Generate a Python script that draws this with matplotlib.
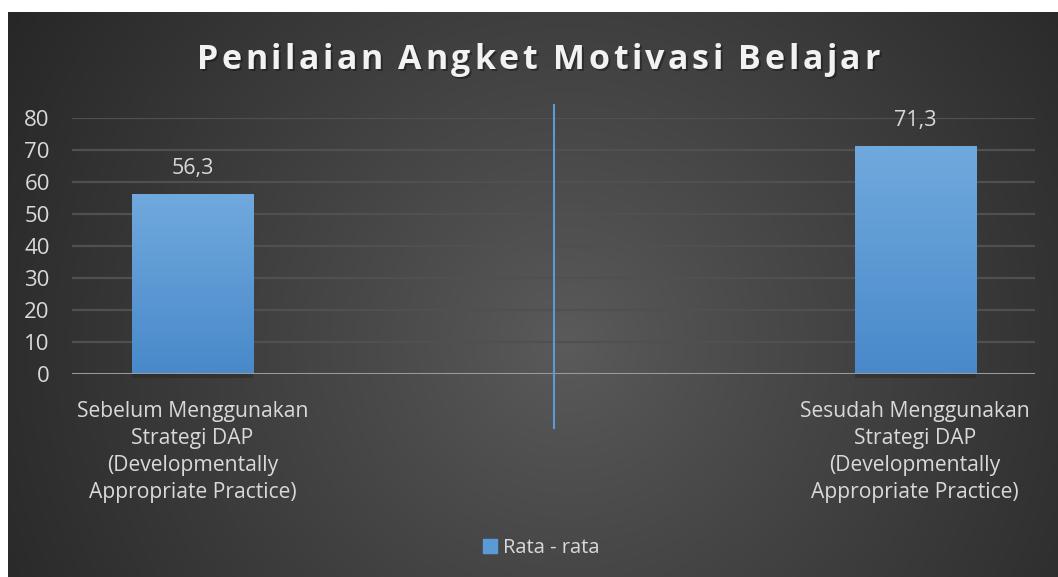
import numpy as np
import matplotlib
matplotlib.use("Agg")
import matplotlib.pyplot as plt
from matplotlib.colors import LinearSegmentedColormap

# ---- data ----
categories = ["Sebelum Menggunakan\nStrategi DAP\n(Developmentally\nAppropriate Practice)",
              "Sesudah Menggunakan\nStrategi DAP\n(Developmentally\nAppropriate Practice)"]
values = [56.3, 71.3]
value_labels = ["56,3", "71,3"]
series_name = "Rata - rata"
title = "Penilaian Angket Motivasi Belajar"
yticks = [0, 10, 20, 30, 40, 50, 60, 70, 80]

W, H = 1058, 577
fig = plt.figure(figsize=(W / 100, H / 100), dpi=100)
fig.patch.set_facecolor("white")
FONT = "Open Sans"

# ---- background radial gradient ----
bx0, by0 = 8, 12
bw, bh = W - bx0, H - by0
bg = fig.add_axes([bx0 / W, 0, bw / W, bh / H], zorder=-10)
yy, xx = np.mgrid[0:bh, 0:bw]
cx, cy = 560, 330
d = np.sqrt((xx - cx) ** 2 + (yy - cy) ** 2)
t = np.clip(d / np.sqrt(cx ** 2 + cy ** 2), 0, 1) ** 0.9
c0 = np.array([0x5b, 0x5b, 0x5b]) / 255
c1 = np.array([0x27, 0x27, 0x27]) / 255
img = c0[None, None, :] * (1 - t[..., None]) + c1[None, None, :] * t[..., None]
bg.imshow(img, aspect="auto", extent=[0, 1, 0, 1], origin="upper")
bg.set_axis_off()

# ---- main axes ----
ax_l, ax_r, ax_t, ax_b = 72, 1035, 118, 374
ax = fig.add_axes([ax_l / W, (H - ax_b) / H, (ax_r - ax_l) / W, (ax_b - ax_t) / H])
ax.set_facecolor("none")
x = np.arange(len(values))
bar_w = 0.1675
ax.set_xlim(-0.1668, 1.166)
ax.set_ylim(0, 80)

for yv in yticks[1:]:
    ax.axhline(yv, color="#505050", lw=1.6, zorder=1)
ax.axhline(0, color="#9a9a9a", lw=2.2, zorder=4)

bars = ax.bar(x, values, width=bar_w, color="#5b9bd5", zorder=3)
cmap = LinearSegmentedColormap.from_list("bar", ["#4989ca", "#70a9dd"])
grad = np.linspace(0, 1, 256).reshape(-1, 1)
for b in bars:
    x0, w, h = b.get_x(), b.get_width(), b.get_height()
    im = ax.imshow(grad, cmap=cmap, aspect="auto", origin="lower",
                   extent=[x0, x0 + w, 0, h], zorder=3.1)
    im.set_clip_path(b)
    ax.fill_between([x0, x0 + w], [-1.2, -1.2], [0, 0], color="#222222",
                    alpha=0.4, zorder=2, clip_on=False, lw=0)

for xi, v, lab in zip(x, values, value_labels):
    ax.annotate(lab, (xi, v), xytext=(0, 11), textcoords="offset points",
                ha="center", va="bottom", color="#d9d9d9", fontsize=15.5,
                family=FONT)

# separator line
ax.plot([0.5, 0.5], [84.1, -16.9], color="#5b9bd5", lw=1.5, clip_on=False, zorder=5)

ax.set_yticks(yticks)
ax.set_yticklabels([str(v) for v in yticks])
ax.set_xticks(x)
ax.set_xticklabels(categories, linespacing=1.38)
ax.tick_params(axis="y", length=0, pad=16, labelsize=16, labelcolor="#d9d9d9")
ax.tick_params(axis="x", length=0, pad=19.5, labelsize=15.2, labelcolor="#d9d9d9")
for lab in ax.get_xticklabels() + ax.get_yticklabels():
    lab.set_family(FONT)
for s in ax.spines.values():
    s.set_visible(False)

# ---- title with letter spacing ----
fig.canvas.draw()
renderer = fig.canvas.get_renderer()
tsize = 24.5
target_w = 683
chars = list(title)
widths = []
for ch in chars:
    if ch == " ":
        tt = fig.text(0, 0, "a a", fontsize=tsize, weight="bold", family=FONT)
        ta = fig.text(0, 0, "aa", fontsize=tsize, weight="bold", family=FONT)
        wv = tt.get_window_extent(renderer).width - ta.get_window_extent(renderer).width
        tt.remove(); ta.remove()
    else:
        tt = fig.text(0, 0, ch, fontsize=tsize, weight="bold", family=FONT)
        wv = tt.get_window_extent(renderer).width
        tt.remove()
    widths.append(wv)
base = sum(widths)
track = (target_w - base) / (len(chars) - 1)
xpos = 538 - target_w / 2
ty = 60
for ch, wv in zip(chars, widths):
    if ch != " ":
        fig.text((xpos + 2) / W, 1 - (ty + 2) / H, ch, fontsize=tsize, weight="bold",
                 family=FONT, color="#111111", alpha=0.45, va="center", ha="left")
        fig.text(xpos / W, 1 - ty / H, ch, fontsize=tsize, weight="bold",
                 family=FONT, color="#f2f2f2", va="center", ha="left")
    xpos += wv + track

# ---- legend ----
leg = fig.legend([plt.Rectangle((0, 0), 1, 1, color="#5b9bd5")], [series_name],
                 loc="center", bbox_to_anchor=(541 / W, 1 - 548 / H),
                 frameon=False, handlelength=0.7, handleheight=0.7,
                 handletextpad=0.3, prop={"family": FONT, "size": 14.5})
for txt in leg.get_texts():
    txt.set_color("#d9d9d9")

fig.savefig("out.png", dpi=100, facecolor="white")
